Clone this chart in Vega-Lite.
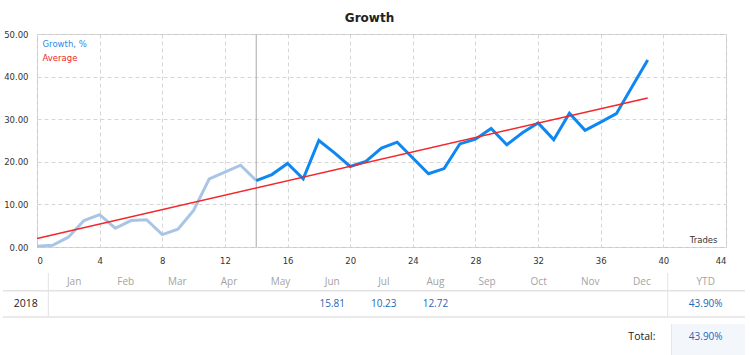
{
  "$schema": "https://vega.github.io/schema/vega-lite/v6.json",
  "width": 689,
  "height": 213,
  "autosize": {"type": "none"},
  "padding": {"left": 37, "top": 34, "right": 24, "bottom": 108},
  "background": "white",
  "title": {"text": "Growth", "font": "DejaVu Sans", "fontSize": 12, "fontWeight": "bold", "color": "#222222", "anchor": "middle", "frame": "group", "dx": -12, "offset": -4, "baseline": "alphabetic"},
  "datasets": {
    "growth": [
      {"trade": 0, "value": 0.15}, {"trade": 1, "value": 0.4}, {"trade": 2, "value": 2.3}, {"trade": 3, "value": 6.2},
      {"trade": 4, "value": 7.6}, {"trade": 5, "value": 4.4}, {"trade": 6, "value": 6.2}, {"trade": 7, "value": 6.4},
      {"trade": 8, "value": 2.9}, {"trade": 9, "value": 4.2}, {"trade": 10, "value": 8.6}, {"trade": 11, "value": 16.0},
      {"trade": 12, "value": 17.6}, {"trade": 13, "value": 19.2}, {"trade": 14, "value": 15.6}, {"trade": 15, "value": 17.0},
      {"trade": 16, "value": 19.6}, {"trade": 17, "value": 16.0}, {"trade": 18, "value": 25.0}, {"trade": 19, "value": 22.1},
      {"trade": 20, "value": 18.9}, {"trade": 21, "value": 20.1}, {"trade": 22, "value": 23.2}, {"trade": 23, "value": 24.6},
      {"trade": 24, "value": 20.9}, {"trade": 25, "value": 17.2}, {"trade": 26, "value": 18.4}, {"trade": 27, "value": 24.2},
      {"trade": 28, "value": 25.3}, {"trade": 29, "value": 27.8}, {"trade": 30, "value": 24.0}, {"trade": 31, "value": 26.8},
      {"trade": 32, "value": 29.1}, {"trade": 33, "value": 25.2}, {"trade": 34, "value": 31.4}, {"trade": 35, "value": 27.4},
      {"trade": 36, "value": 29.3}, {"trade": 37, "value": 31.3}, {"trade": 38, "value": 37.6}, {"trade": 39, "value": 43.9}
    ],
    "average": [{"trade": 0, "value": 2.0}, {"trade": 39, "value": 35.0}],
    "marker": [{"trade": 14}],
    "cells": [
      {"kind": "head", "col": 1, "r": 0, "text": "Jan"}, {"kind": "head", "col": 2, "r": 0, "text": "Feb"},
      {"kind": "head", "col": 3, "r": 0, "text": "Mar"}, {"kind": "head", "col": 4, "r": 0, "text": "Apr"},
      {"kind": "head", "col": 5, "r": 0, "text": "May"}, {"kind": "head", "col": 6, "r": 0, "text": "Jun"},
      {"kind": "head", "col": 7, "r": 0, "text": "Jul"}, {"kind": "head", "col": 8, "r": 0, "text": "Aug"},
      {"kind": "head", "col": 9, "r": 0, "text": "Sep"}, {"kind": "head", "col": 10, "r": 0, "text": "Oct"},
      {"kind": "head", "col": 11, "r": 0, "text": "Nov"}, {"kind": "head", "col": 12, "r": 0, "text": "Dec"},
      {"kind": "head", "col": 13, "r": 0, "text": "YTD"},
      {"kind": "label", "col": 0, "r": 1, "text": "2018"},
      {"kind": "value", "col": 6, "r": 1, "text": "15.81"}, {"kind": "value", "col": 7, "r": 1, "text": "10.23"},
      {"kind": "value", "col": 8, "r": 1, "text": "12.72"}, {"kind": "value", "col": 13, "r": 1, "text": "43.90%"},
      {"kind": "label", "col": 12, "r": 2, "text": "Total:"},
      {"kind": "value", "col": 13, "r": 2, "text": "43.90%"}
    ],
    "hlines": [{"col": -0.5, "col2": 13.5, "r": 0.5}, {"col": -0.5, "col2": 13.5, "r": 1.5}],
    "vlines": [{"col": 0.5, "r": -0.5, "r2": 1.5}, {"col": 12.5, "r": -0.5, "r2": 1.5}],
    "box": [{"col": 12.55, "col2": 13.5, "r": 1.75, "r2": 2.5}]
  },
  "layer": [
    {
      "encoding": {
        "x": {"field": "trade", "type": "quantitative",
          "scale": {"domain": [0, 44], "nice": false, "zero": false},
          "axis": {"values": [0, 4, 8, 12, 16, 20, 24, 28, 32, 36, 40, 44], "title": "Trades", "domain": false, "ticks": false,
            "labelFont": "DejaVu Sans", "labelFontSize": 8.5, "labelColor": "#333333", "labelPadding": 9,
            "grid": true, "gridColor": "#d6d6d6", "gridDash": [4, 3], "gridWidth": 1,
            "titleFont": "DejaVu Sans", "titleFontSize": 8.5, "titleFontWeight": "normal", "titleColor": "#333333",
            "titleAlign": "right", "titleAnchor": null, "titleX": 680, "titleY": -8, "titleBaseline": "middle"}}
      },
      "layer": [
        {"data": {"name": "marker"}, "mark": {"type": "rule", "color": "#aaaaaa", "strokeWidth": 1}},
        {"data": {"name": "growth"}, "transform": [{"filter": "datum.trade <= 14"}],
          "mark": {"type": "line", "color": "#a9c5e5", "strokeWidth": 3},
          "encoding": {"y": {"field": "value", "type": "quantitative",
            "scale": {"domain": [0, 50], "nice": false, "zero": false},
            "axis": {"values": [0, 10, 20, 30, 40, 50], "format": ".2f", "title": null, "domain": false, "ticks": false,
              "labelFont": "DejaVu Sans", "labelFontSize": 8.5, "labelColor": "#333333", "labelPadding": 9,
              "grid": true, "gridColor": "#d6d6d6", "gridDash": [4, 3], "gridWidth": 1}}}},
        {"data": {"name": "growth"}, "transform": [{"filter": "datum.trade >= 14"}],
          "mark": {"type": "line", "strokeWidth": 3},
          "encoding": {
            "y": {"field": "value", "type": "quantitative", "axis": {"title": null}},
            "color": {"datum": "Growth, %",
            "scale": {"domain": ["Growth, %", "Average"], "range": ["#0f87f2", "#f2262b"]},
            "legend": {"orient": "none", "legendX": -3, "legendY": 6, "padding": 0, "title": null, "symbolSize": 0, "symbolOpacity": 0,
              "symbolStrokeWidth": 0, "labelOffset": 0, "labelFont": "DejaVu Sans", "labelFontSize": 8.5, "rowPadding": 4.5,
              "encode": {"labels": {"update": {"fill": {"signal": "datum.value === 'Average' ? '#ee2a2a' : '#2c8ae8'"}}}}}}}},
        {"data": {"name": "average"}, "mark": {"type": "line", "strokeWidth": 1.5},
          "encoding": {
            "y": {"field": "value", "type": "quantitative", "axis": {"title": null}},
            "color": {"datum": "Average"}}}
      ]
    },
    {
      "encoding": {
        "x": {"field": "col", "type": "quantitative", "axis": null,
          "scale": {"domain": [-0.5, 0, 0.5, 12.5, 13, 13.5], "range": [-34, -11.3, 11.3, 630.7, 668.7, 708], "nice": false, "zero": false}},
        "y": {"field": "r", "type": "quantitative", "axis": null,
          "scale": {"domain": [-0.5, 0, 0.5, 1, 1.5, 1.75, 2, 2.5], "range": [239, 247.7, 256.7, 270, 283, 290, 302.7, 321], "nice": false, "zero": false}}
      },
      "layer": [
        {"data": {"name": "box"}, "mark": {"type": "rect", "fill": "#f3f6fb"},
          "encoding": {"x2": {"field": "col2"}, "y2": {"field": "r2"}}},
        {"data": {"name": "box"}, "mark": {"type": "rule", "color": "#e2e7ef", "strokeWidth": 1},
          "encoding": {"y2": {"field": "r2"}}},
        {"data": {"name": "hlines"}, "mark": {"type": "rule", "color": "#e3e3e3", "strokeWidth": 1.5},
          "encoding": {"x2": {"field": "col2"}}},
        {"data": {"name": "vlines"}, "mark": {"type": "rule", "color": "#e3e3e3", "strokeWidth": 1},
          "encoding": {"y2": {"field": "r2"}}},
        {"data": {"name": "cells"}, "transform": [{"filter": "datum.kind === 'head'"}],
          "mark": {"type": "text", "font": "Open Sans", "fontSize": 10, "color": "#a3a3a3", "baseline": "middle", "align": "center"},
          "encoding": {"text": {"field": "text"}}},
        {"data": {"name": "cells"}, "transform": [{"filter": "datum.kind === 'label'"}],
          "mark": {"type": "text", "font": "Open Sans", "fontSize": 10.5, "color": "#222222", "baseline": "middle", "align": "center"},
          "encoding": {"text": {"field": "text"}}},
        {"data": {"name": "cells"}, "transform": [{"filter": "datum.kind === 'value'"}],
          "mark": {"type": "text", "font": "Open Sans", "fontSize": 10, "color": "#2467bb", "baseline": "middle", "align": "center"},
          "encoding": {"text": {"field": "text"}}}
      ]
    }
  ],
  "resolve": {"scale": {"x": "independent", "y": "independent"}},
  "config": {"view": {"stroke": "#c8c8c8", "strokeWidth": 1}}
}
